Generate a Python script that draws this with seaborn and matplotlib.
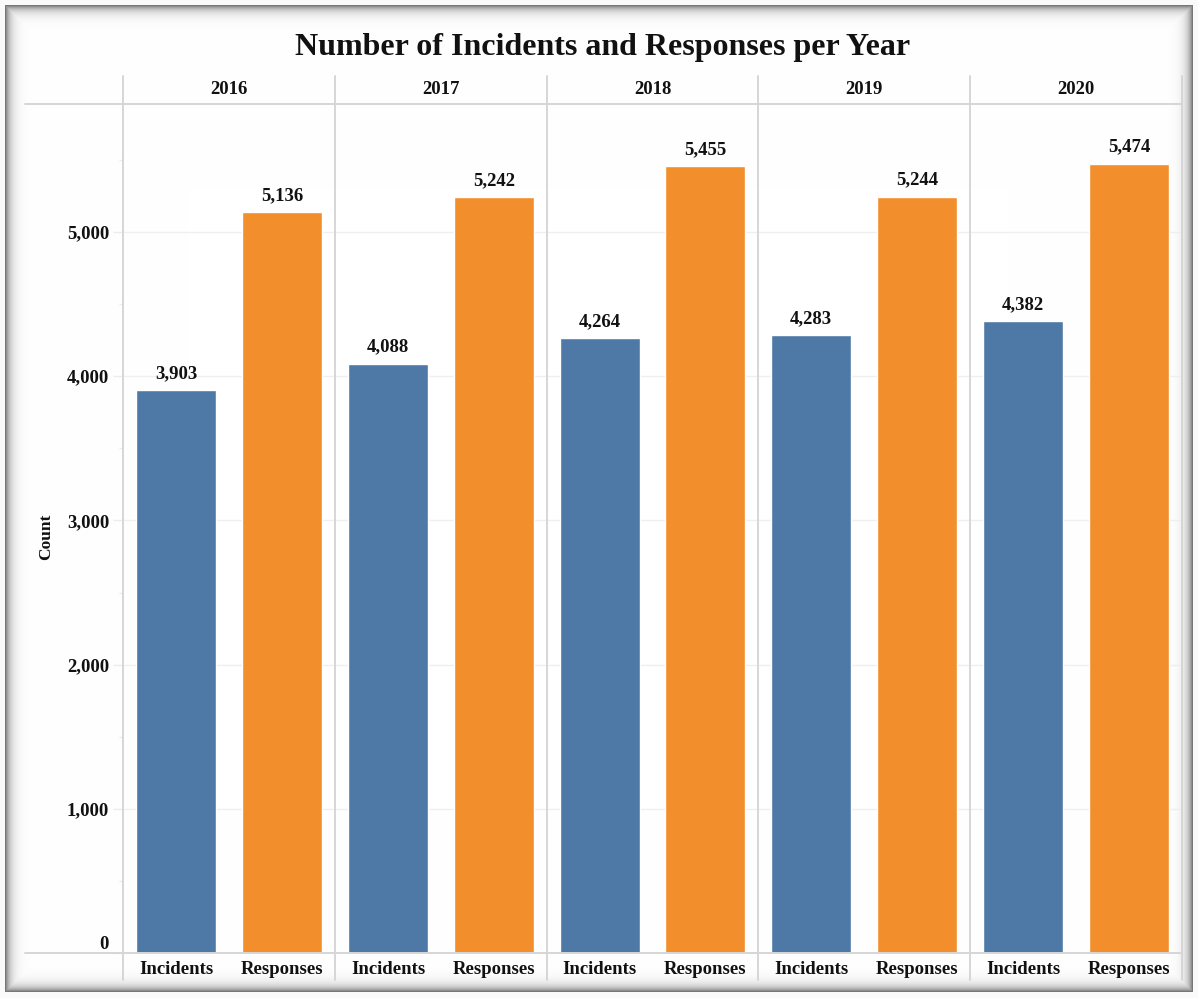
import numpy as np
import pandas as pd
import matplotlib
matplotlib.use("Agg")
import matplotlib.pyplot as plt
from matplotlib.lines import Line2D
from matplotlib.ticker import MultipleLocator, FuncFormatter
import seaborn as sns

# ---- data ----
years = ["2016", "2017", "2018", "2019", "2020"]
measures = ["Incidents", "Responses"]
incidents = [3903, 4088, 4264, 4283, 4382]
responses = [5136, 5242, 5455, 5244, 5474]
y_ticks = [0, 1000, 2000, 3000, 4000, 5000]

df = pd.DataFrame({
    "Year": np.repeat(years, 2),
    "Measure": measures * len(years),
    "Count": [v for pair in zip(incidents, responses) for v in pair],
})

sns.set_theme(style="white")
plt.rcParams["font.family"] = ["Liberation Serif", "DejaVu Serif"]
plt.rcParams["font.weight"] = "bold"

W, H = 1198, 998
fig = plt.figure(figsize=(W / 100, H / 100), dpi=100)
fig.patch.set_facecolor("white")

def fx(px):
    return px / W

def fy(py):
    return 1 - py / H

# ---- inset frame with soft inner shadow ----
bg = fig.add_axes([0, 0, 1, 1], zorder=-10)
xx, yy = np.meshgrid(np.arange(W) + 0.5, np.arange(H) + 0.5)
left, top, right, bottom = 5, 5, 1193, 992
d = np.minimum.reduce([xx - left, yy - top, right - xx, bottom - yy])
shade = np.where(d >= 0, 255 - 150 * np.exp(-d / 5.0), 250)
shade = np.clip(shade, 0, 255) / 255.0
bg.imshow(np.dstack([shade] * 3), extent=[0, W, H, 0], aspect="auto",
          interpolation="nearest")
bg.set_axis_off()

# ---- panels ----
palette = {"Incidents": "#4e79a7", "Responses": "#f28e2b"}
edges = [123, 335, 547, 758, 970, 1182]
plot_top, plot_bottom = 104, 953
ymax = 5888
line_col = "#d6d6d6"

for i, yr in enumerate(years):
    x0, x1 = edges[i], edges[i + 1]
    ax = fig.add_axes([fx(x0), fy(plot_bottom), fx(x1 - x0), (plot_bottom - plot_top) / H])
    ax.set_facecolor("none")
    sub = df[df["Year"] == yr]
    sns.barplot(data=sub, x="Measure", y="Count", hue="Measure", order=measures,
                hue_order=measures, palette=palette, width=0.755, legend=False,
                saturation=1, ax=ax, errorbar=None)
    ax.set_xlim(-0.5, 1.5)
    ax.set_ylim(0, ymax)
    ax.set_axisbelow(True)
    ax.yaxis.set_major_locator(MultipleLocator(1000))
    ax.yaxis.grid(True, which="major", color="#efefef", lw=1)
    ax.xaxis.grid(False)
    for s in ax.spines.values():
        s.set_visible(False)
    ax.set_xlabel("")
    ax.set_ylabel("")
    ax.tick_params(axis="x", length=0, pad=6, labelsize=13.5)
    for lab in ax.get_xticklabels():
        lab.set_fontweight("bold")
        lab.set_color("#111111")
    if i == 0:
        ax.set_yticks(y_ticks)
        ax.yaxis.set_minor_locator(MultipleLocator(500))
        ax.yaxis.set_major_formatter(FuncFormatter(lambda v, p: f"{int(v):,}"))
        ax.tick_params(axis="y", which="major", length=7, width=1, color="#ececec",
                       pad=3, labelsize=13.5, left=True)
        ax.tick_params(axis="y", which="minor", length=3, width=1, color="#ececec", left=True)
        for lab in ax.get_yticklabels():
            lab.set_fontweight("bold")
            lab.set_color("#111111")
        ax.get_yticklabels()[0].set_verticalalignment("bottom")
    else:
        ax.tick_params(axis="y", which="both", left=False, labelleft=False)

    # value labels above bars
    for bar, val in zip(ax.patches, sub.set_index("Measure").loc[measures, "Count"]):
        ax.annotate(f"{val:,}", (bar.get_x() + bar.get_width() / 2, bar.get_height()),
                    xytext=(0, 6), textcoords="offset points", ha="center", va="bottom",
                    fontsize=13.5, fontweight="bold", color="#111111")

    # column header
    fig.text(fx((x0 + x1) / 2), fy(89), yr, ha="center", va="center",
             fontsize=13.5, fontweight="bold", color="#111111")

# ---- grid frame lines ----
for x in edges:
    fig.add_artist(Line2D([fx(x), fx(x)], [fy(76), fy(980)], color=line_col, lw=1.4))
for y in (plot_top, plot_bottom):
    fig.add_artist(Line2D([fx(25), fx(1182)], [fy(y), fy(y)], color=line_col, lw=1.4))

# ---- titles ----
fig.text(fx(603), fy(47), "Number of Incidents and Responses per Year", ha="center",
         va="center", fontsize=23, fontweight="bold", color="#111111")
fig.text(fx(46), fy(537), "Count", ha="center", va="center", rotation=90,
         fontsize=12.5, fontweight="bold", color="#111111")

fig.savefig("out.png", dpi=100)
